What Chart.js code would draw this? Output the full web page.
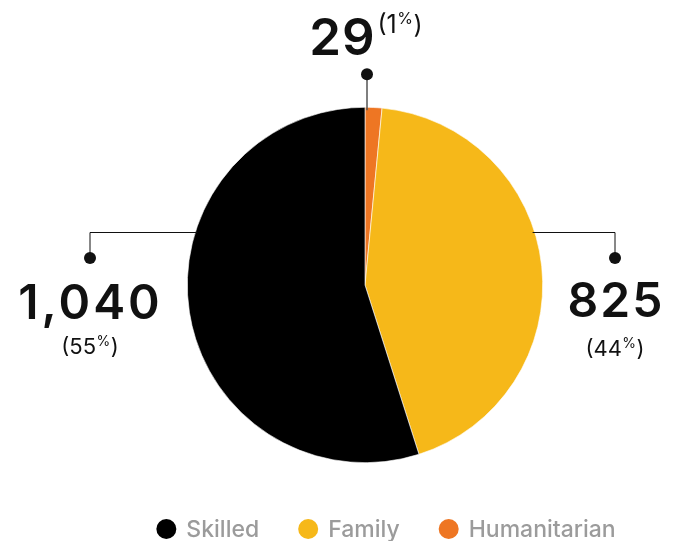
<!DOCTYPE html>
<html>
<head>
<meta charset="utf-8">
<script src="https://cdn.jsdelivr.net/npm/chart.js@4.4.1/dist/chart.umd.min.js"></script>
<style>
  html, body { margin: 0; padding: 0; background: #ffffff; }
  #wrap { width: 678px; height: 541px; position: relative; }
</style>
</head>
<body>
<div id="wrap"><canvas id="chart" width="678" height="541"></canvas></div>
<script>
// Admissions by stream (clockwise from 12 o'clock)
const categories = ['Humanitarian', 'Family', 'Skilled'];
const counts = [29, 825, 1040];
const shareLabels = ['1', '44', '55'];          // printed percentages
const countLabels = ['29', '825', '1,040'];     // printed counts
const sliceColors = ['#EE7623', '#F6B819', '#000000'];
const legendOrder = ['Skilled', 'Family', 'Humanitarian'];

const FONT = 'Inter, "Noto Sans", sans-serif';
const INK = '#111111';

function dot(ctx, x, y) {
  ctx.beginPath();
  ctx.arc(x, y, 6, 0, Math.PI * 2);
  ctx.fillStyle = INK;
  ctx.fill();
}

// "(55%)" with a small raised percent sign, centred on x
function drawShare(ctx, pct, x, baseY, size) {
  const small = Math.round(size * 0.62);
  ctx.textBaseline = 'alphabetic';
  ctx.font = `400 ${size}px ${FONT}`;
  const wOpen = ctx.measureText('(' + pct).width;
  const wClose = ctx.measureText(')').width;
  ctx.font = `400 ${small}px ${FONT}`;
  const wPct = ctx.measureText('%').width + 1;
  let left = x - (wOpen + wPct + wClose) / 2;
  ctx.textAlign = 'left';
  ctx.fillStyle = INK;
  ctx.font = `400 ${size}px ${FONT}`;
  ctx.fillText('(' + pct, left, baseY);
  ctx.font = `400 ${small}px ${FONT}`;
  ctx.fillText('%', left + wOpen + 0.5, baseY - size * 0.36);
  ctx.font = `400 ${size}px ${FONT}`;
  ctx.fillText(')', left + wOpen + wPct, baseY);
  return left;
}

function bigNumber(ctx, text, x, baseY, size, spacing) {
  ctx.font = `600 ${size}px ${FONT}`;
  ctx.letterSpacing = spacing + 'px';
  ctx.textAlign = 'center';
  ctx.textBaseline = 'alphabetic';
  ctx.fillStyle = INK;
  ctx.fillText(text, x + spacing / 2, baseY);
  ctx.letterSpacing = '0px';
}

const calloutPlugin = {
  id: 'callouts',
  afterDatasetsDraw(chart) {
    const ctx = chart.ctx;
    const meta = chart.getDatasetMeta(0);
    const arc0 = meta.data[0];
    const cx = arc0.x, cy = arc0.y, r = arc0.outerRadius;
    ctx.save();

    // top callout: smallest slice
    const tx = cx + 2;
    ctx.strokeStyle = '#555555';
    ctx.lineWidth = 1.5;
    ctx.beginPath();
    ctx.moveTo(tx, cy - r + 3);
    ctx.lineTo(tx, cy - r - 33);
    ctx.stroke();
    dot(ctx, tx, cy - r - 33);
    bigNumber(ctx, countLabels[0], tx - 25, 55, 51, 1);
    drawShare(ctx, shareLabels[0], tx + 33, 33, 25);

    // side callouts
    const lineY = cy - 53;
    const dx = Math.sqrt(r * r - (cy - lineY) * (cy - lineY));
    ctx.strokeStyle = INK;
    ctx.lineWidth = 1;

    // right: Family
    const rx = cx + 250;
    ctx.beginPath();
    ctx.moveTo(cx + dx - 2, lineY + 0.5);
    ctx.lineTo(rx, lineY + 0.5);
    ctx.lineTo(rx, lineY + 26);
    ctx.stroke();
    dot(ctx, rx, lineY + 26);
    bigNumber(ctx, countLabels[1], rx, 317, 48, 2);
    drawShare(ctx, shareLabels[1], rx, 356, 22);

    // left: Skilled
    const lx = cx - 275;
    ctx.beginPath();
    ctx.moveTo(cx - dx + 2, lineY + 0.5);
    ctx.lineTo(lx, lineY + 0.5);
    ctx.lineTo(lx, lineY + 26);
    ctx.stroke();
    dot(ctx, lx, lineY + 26);
    bigNumber(ctx, countLabels[2], lx - 1, 319, 48, 3);
    drawShare(ctx, shareLabels[2], lx, 354, 22);

    // legend row
    ctx.font = `500 23px ${FONT}`;
    ctx.textBaseline = 'middle';
    ctx.textAlign = 'left';
    const items = legendOrder.map(name => {
      const idx = categories.indexOf(name);
      return { name, color: sliceColors[idx], w: ctx.measureText(name).width };
    });
    const gapDotText = 10, gapItems = 39, dotR = 10;
    const total = items.reduce((s, it) => s + dotR * 2 + gapDotText + it.w, 0) + gapItems * (items.length - 1);
    let x = 386 - total / 2;
    const ly = 529;
    items.forEach(it => {
      ctx.beginPath();
      ctx.arc(x + dotR, ly, dotR, 0, Math.PI * 2);
      ctx.fillStyle = it.color;
      ctx.fill();
      ctx.fillStyle = '#9B9B9B';
      ctx.fillText(it.name, x + dotR * 2 + gapDotText, ly + 1);
      x += dotR * 2 + gapDotText + it.w + gapItems;
    });
    ctx.restore();
  }
};

new Chart(document.getElementById('chart'), {
  type: 'pie',
  data: {
    labels: categories,
    datasets: [{
      data: counts,
      backgroundColor: sliceColors,
      borderColor: '#ffffff',
      borderWidth: 0.6
    }]
  },
  options: {
    responsive: false,
    animation: false,
    rotation: 0,
    layout: { padding: { top: 107, bottom: 78, left: 52, right: 0 } },
    plugins: {
      legend: { display: false },
      tooltip: { enabled: false }
    }
  },
  plugins: [calloutPlugin]
});
</script>
</body>
</html>
